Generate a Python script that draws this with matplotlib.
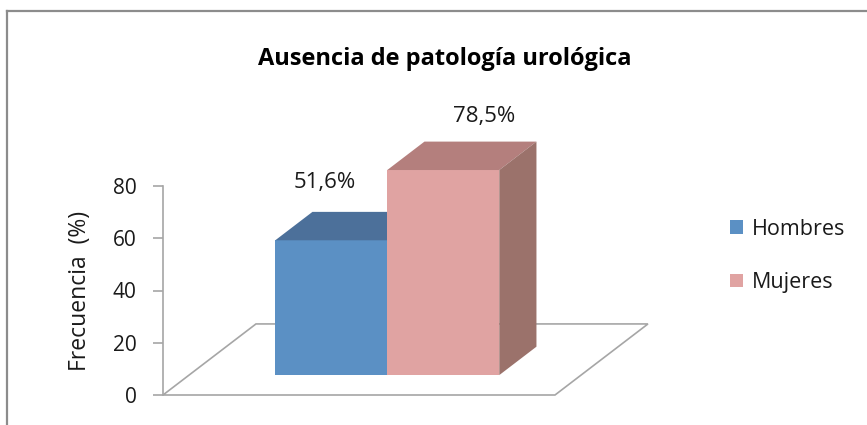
import numpy as np
import matplotlib
matplotlib.use("Agg")
import matplotlib.pyplot as plt
from matplotlib.patches import Polygon, Patch
from matplotlib.lines import Line2D

plt.rcParams['font.family'] = ['Open Sans', 'DejaVu Sans']

# datos
categorias = ['Hombres', 'Mujeres']
valores = [51.6, 78.5]
etiquetas = ['51,6%', '78,5%']
y_ticks = [0, 20, 40, 60, 80]

# colores (frente, arriba, lado)
c_frente = ['#5b90c4', '#e0a3a2']
c_arriba = ['#4c709a', '#b47f7d']
c_lado = ['#3f5f86', '#9b726b']
gris = '#a6a6a6'
texto = '#1a1a1a'

fig = plt.figure(figsize=(8.67, 4.25), dpi=100)
W, H = 867, 425

# ejes principales (0..80 en vertical)
ax = fig.add_axes([163 / W, 30 / H, 392 / W, 209 / H])
ax.set_xlim(-0.77, 2.73)
ax.set_ylim(0, 80)

# parámetros de la perspectiva
dx_suelo, dy_suelo = 0.83, 27.2
prof_ini, prof_bar = 0.28, 0.40

# suelo
x0, x1 = ax.get_xlim()
suelo = Polygon([(x0, 0), (x1, 0), (x1 + dx_suelo, dy_suelo), (x0 + dx_suelo, dy_suelo)],
                closed=True, facecolor='white', edgecolor=gris, lw=1.2, clip_on=False, zorder=1)
ax.add_patch(suelo)

centros = np.arange(len(valores)) + 0.5
ox, oy = prof_ini * dx_suelo, prof_ini * dy_suelo
bx, by = prof_bar * dx_suelo, prof_bar * dy_suelo
offs_lbl = [(-44, 29), (4, 25)]

for i, v in enumerate(valores):
    xl = centros[i] - 0.5 + ox
    xr = xl + 1
    y0, y1 = oy, oy + v
    z = 2 + i * 3
    ax.bar(xl + 0.5, v, width=1, bottom=y0, color=c_frente[i], clip_on=False, zorder=z)
    ax.add_patch(Polygon([(xl, y1), (xr, y1), (xr + bx, y1 + by), (xl + bx, y1 + by)],
                         facecolor=c_arriba[i], edgecolor='none', clip_on=False, zorder=z + 1))
    ax.add_patch(Polygon([(xr, y0), (xr, y1), (xr + bx, y1 + by), (xr + bx, y0 + by)],
                         facecolor=c_lado[i], edgecolor='none', clip_on=False, zorder=z + 1))
    ax.annotate(etiquetas[i], (xl + 0.5 + bx, y1 + by), xytext=offs_lbl[i],
                textcoords='offset pixels', ha='center', va='center',
                fontsize=16, color=texto, annotation_clip=False, zorder=20)

# ejes
for s in ['top', 'right', 'bottom']:
    ax.spines[s].set_visible(False)
ax.spines['left'].set_color(gris)
ax.spines['left'].set_linewidth(1.2)
ax.spines['left'].set_zorder(15)
ax.set_xticks([])
ax.set_yticks(y_ticks)
ax.tick_params(axis='y', length=7, width=1.2, color=gris, labelsize=15,
               labelcolor=texto, pad=12)
ax.patch.set_visible(False)
ax.set_ylabel('Frecuencia  (%)', fontsize=16.5, color=texto)
ax.yaxis.set_label_coords((92 - 163) / 392, (395 - 291) / 209)

# título
fig.text(445 / W, 1 - 59 / H, 'Ausencia de patología urológica', ha='center', va='center',
         fontsize=17, fontweight='bold', color='black')

# leyenda
handles = [Patch(facecolor=c, edgecolor='none') for c in c_frente]
fig.legend(handles, categorias, loc='center left', bbox_to_anchor=(711 / W, 1 - 256 / H),
           frameon=False, fontsize=15.5, handlelength=0.6, handleheight=0.6,
           handletextpad=0.4, labelspacing=1.5, labelcolor=texto)

# borde del gráfico
fig.add_artist(Line2D([7 / W, 1], [1 - 11 / H, 1 - 11 / H], color='#8c8c8c', lw=1.6))
fig.add_artist(Line2D([7 / W, 7 / W], [0, 1 - 11 / H], color='#8c8c8c', lw=1.6))

fig.savefig('out.png', dpi=100)
